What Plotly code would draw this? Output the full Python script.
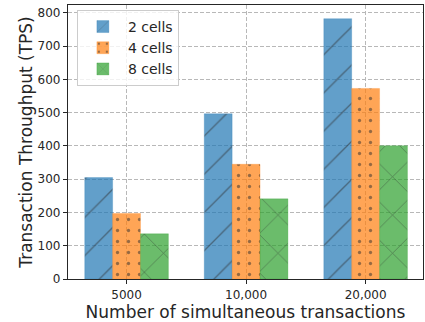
import plotly.graph_objects as go

categories = ["5000", "10,000", "20,000"]
series_names = ["2 cells", "4 cells", "8 cells"]
tps_2cells = [305, 497, 783]
tps_4cells = [197, 345, 573]
tps_8cells = [136, 241, 401]
y_ticks = [0, 100, 200, 300, 400, 500, 600, 700, 800]

values = [tps_2cells, tps_4cells, tps_8cells]
colors = ["rgba(31,119,180,0.7)", "rgba(255,127,14,0.7)", "rgba(44,160,44,0.7)"]
edge = ["rgba(31,119,180,0.25)", "rgba(255,127,14,0.25)", "rgba(44,160,44,0.25)"]
patterns = [dict(shape="/", size=27, solidity=0.05),
            dict(shape=".", size=11, solidity=0.07),
            dict(shape="x", size=27, solidity=0.05)]

FONT = "DejaVu Sans"
TXT = "#262626"

fig = go.Figure()
for name, vals, c, e, p in zip(series_names, values, colors, edge, patterns):
    fig.add_trace(go.Bar(
        x=categories, y=vals, name=name,
        marker=dict(color=c, line=dict(color=e, width=1),
                    pattern=dict(fgcolor="rgb(45,45,45)", **p)),
    ))

fig.update_layout(
    width=425, height=322,
    margin=dict(l=68, r=2, t=5, b=43),
    paper_bgcolor="white", plot_bgcolor="white",
    barmode="group", bargap=0.3, bargroupgap=0,
    font=dict(family=FONT, color=TXT, size=12),
    legend=dict(x=0.025, y=0.982, xanchor="left", yanchor="top",
                bgcolor="rgba(255,255,255,0.8)", bordercolor="#cccccc", borderwidth=1,
                font=dict(size=14, family=FONT, color=TXT),
                itemwidth=40, tracegroupgap=0),
    showlegend=True,
)
fig.update_xaxes(
    type="category", range=[-0.49, 2.48], automargin=False,
    showgrid=True, gridcolor="#b8b8b8", griddash="4px,2px", gridwidth=1,
    showline=True, mirror=True, linecolor="#262626", linewidth=1.25,
    ticks="outside", ticklen=4, tickcolor="#262626",
    tickfont=dict(size=12, family=FONT, color=TXT),
    title=dict(text="Number of simultaneous transactions", font=dict(size=17, family=FONT, color=TXT), standoff=0),
)
fig.update_yaxes(
    range=[0, 824], tickvals=y_ticks, automargin=False,
    showgrid=True, gridcolor="#b8b8b8", griddash="4px,2px", gridwidth=1,
    zeroline=False,
    showline=True, mirror=True, linecolor="#262626", linewidth=1.25,
    ticks="outside", ticklen=4, tickcolor="#262626",
    tickfont=dict(size=12, family=FONT, color=TXT),
    title=dict(text="Transaction Throughput (TPS)", font=dict(size=17, family=FONT, color=TXT), standoff=0),
)

fig.write_html(
    "out.html",
    config={"displayModeBar": False},
    post_script="document.body.style.margin='0';document.body.style.overflow='hidden';",
)
